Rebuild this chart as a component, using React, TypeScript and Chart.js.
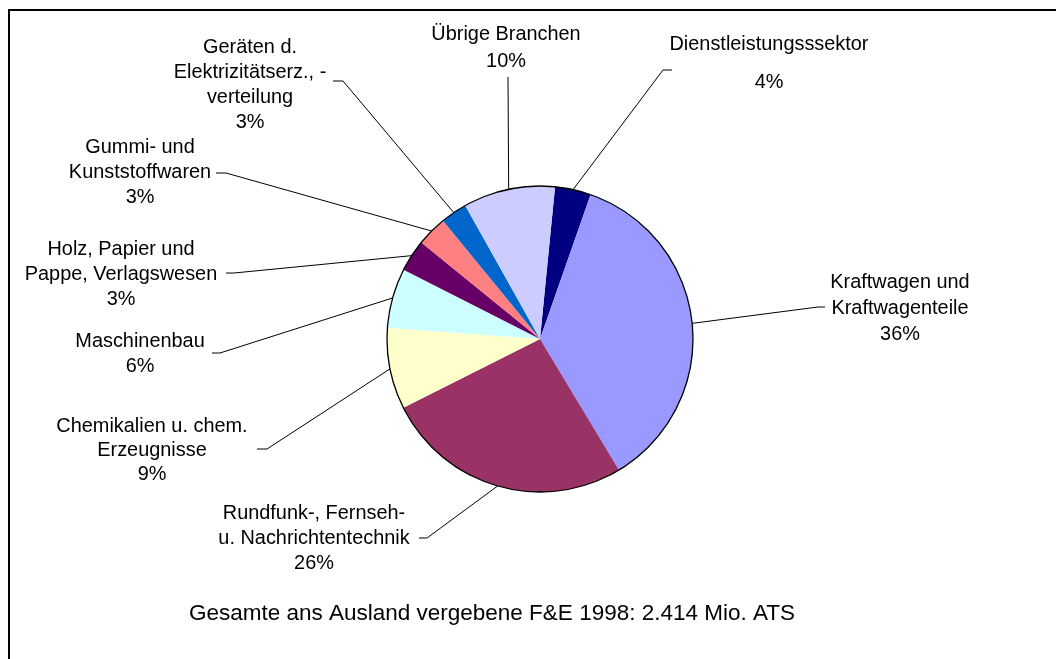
import React, { useEffect, useRef } from "react";
import { Chart, registerables } from "chart.js";

Chart.register(...registerables);

// Data (share of foreign-commissioned R&D 1998, in %)
const categoryLines: string[][] = [
  ["Dienstleistungsssektor"],
  ["Kraftwagen und", "Kraftwagenteile"],
  ["Rundfunk-, Fernseh-", "u. Nachrichtentechnik"],
  ["Chemikalien u. chem.", "Erzeugnisse"],
  ["Maschinenbau"],
  ["Holz, Papier und", "Pappe, Verlagswesen"],
  ["Gummi- und", "Kunststoffwaren"],
  ["Geräten d.", "Elektrizitätserz., -", "verteilung"],
  ["Übrige Branchen"],
];
const values: number[] = [3.8, 36.0, 26.2, 8.6, 6.3, 3.4, 3.2, 2.8, 9.7];
const colors: string[] = [
  "#000080",
  "#9999FF",
  "#993366",
  "#FFFFCC",
  "#CCFFFF",
  "#660066",
  "#FF8080",
  "#0066CC",
  "#CCCCFF",
];
const footnote = "Gesamte ans Ausland vergebene F&E 1998: 2.414 Mio. ATS";

// Layout of the data labels (page pixels): text centre of first line, line height,
// leader start (near text) and elbow point
const labelLayout = [
  { cx: 769, cy: 45, lh: 38, sx: 672, sy: 70, ex: 663, ey: 70 },
  { cx: 900, cy: 283, lh: 26, sx: 825, sy: 307, ex: 818, ey: 307 },
  { cx: 314, cy: 514, lh: 25, sx: 419, sy: 538, ex: 427, ey: 538 },
  { cx: 152, cy: 427, lh: 24, sx: 257, sy: 449, ex: 267, ey: 449 },
  { cx: 140, cy: 342, lh: 25, sx: 212, sy: 353, ex: 220, ey: 353 },
  { cx: 121, cy: 250, lh: 25, sx: 226, sy: 273, ex: 234, ey: 273 },
  { cx: 140, cy: 148, lh: 25, sx: 216, sy: 173, ex: 226, ey: 173 },
  { cx: 250, cy: 48, lh: 24.7, sx: 333, sy: 81, ex: 343, ey: 81 },
  { cx: 506, cy: 35, lh: 27, sx: 508, sy: 77, ex: 508, ey: 77 },
];

const FONT = '19.9px "Liberation Sans", Arial, sans-serif';
const FOOT_FONT = '22.5px "Liberation Sans", Arial, sans-serif';

const W = 1056;
const H = 659;

const overlayPlugin = {
  id: "overlay",
  afterDraw(chart: any) {
    const ctx: CanvasRenderingContext2D = chart.ctx;
    const meta = chart.getDatasetMeta(0);
    const total = values.reduce((a, b) => a + b, 0);
    ctx.save();

    // frame (top and left edges only visible)
    ctx.fillStyle = "#000";
    ctx.fillRect(8, 9, W - 8, 2);
    ctx.fillRect(8, 9, 2, H - 9);

    // outer circle of the pie
    const a0 = meta.data[0].getProps(["x", "y", "outerRadius"], true);
    ctx.beginPath();
    ctx.arc(a0.x, a0.y, a0.outerRadius, 0, Math.PI * 2);
    ctx.strokeStyle = "#000";
    ctx.lineWidth = 1.3;
    ctx.stroke();

    // labels and leader lines
    ctx.font = FONT;
    ctx.textAlign = "center";
    ctx.textBaseline = "middle";
    meta.data.forEach((arc: any, i: number) => {
      const p = arc.getProps(["x", "y", "startAngle", "endAngle", "outerRadius"], true);
      const mid = (p.startAngle + p.endAngle) / 2;
      const px = p.x + Math.cos(mid) * p.outerRadius;
      const py = p.y + Math.sin(mid) * p.outerRadius;
      const L = labelLayout[i];
      ctx.beginPath();
      ctx.moveTo(L.sx, L.sy);
      ctx.lineTo(L.ex, L.ey);
      ctx.lineTo(px, py);
      ctx.strokeStyle = "#000";
      ctx.lineWidth = 1;
      ctx.stroke();

      const pct = Math.round((values[i] / total) * 100) + "%";
      const lines = [...categoryLines[i], pct];
      ctx.fillStyle = "#000";
      lines.forEach((t, k) => {
        ctx.fillText(t, L.cx, L.cy + k * L.lh);
      });
    });

    // footnote
    ctx.font = FOOT_FONT;
    ctx.fillText(footnote, 492, 614);
    ctx.restore();
  },
};

export default function App() {
  const ref = useRef<HTMLCanvasElement | null>(null);
  useEffect(() => {
    if (!ref.current) return;
    const chart = new Chart(ref.current, {
      type: "pie",
      data: {
        labels: categoryLines.map((l) => l.join(" ")),
        datasets: [
          {
            data: values,
            backgroundColor: colors,
            borderWidth: 0,
          },
        ],
      },
      options: {
        responsive: false,
        animation: false,
        rotation: 5.65,
        layout: { padding: { left: 387, right: 363, top: 186, bottom: 167 } },
        plugins: {
          legend: { display: false },
          tooltip: { enabled: false },
        },
      },
      plugins: [overlayPlugin],
    });
    return () => chart.destroy();
  }, []);
  return (
    <canvas
      ref={ref}
      width={W}
      height={H}
      style={{ position: "fixed", left: 0, top: 0, width: W, height: H, background: "#fff" }}
    />
  );
}
